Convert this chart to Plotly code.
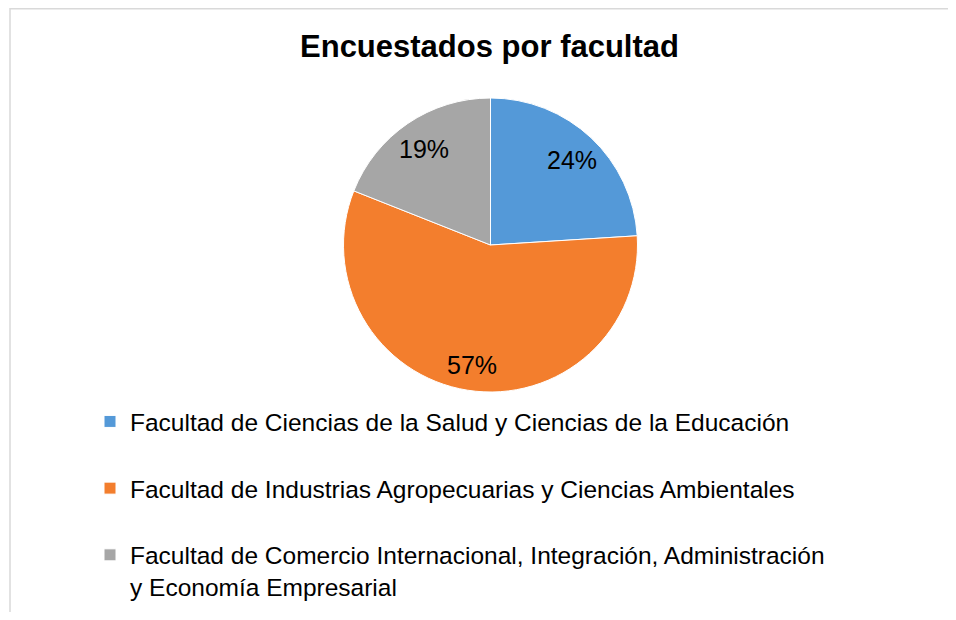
import math
import plotly.graph_objects as go

title = "Encuestados por facultad"
labels = [
    "Facultad de Ciencias de la Salud y Ciencias de la Educación",
    "Facultad de Industrias Agropecuarias y Ciencias Ambientales",
    "Facultad de Comercio Internacional, Integración, Administración<br>y Economía Empresarial",
]
values = [24, 57, 19]
colors = ["#5499d8", "#f37e2d", "#a6a6a6"]

# page body has an 8px margin; the figure is sized to fit the 956x620 window
W, H = 940, 604
FONT = "Liberation Sans, Arial, sans-serif"

# pie geometry (figure pixels)
cx, cy, R = 482.5, 237.0, 147.0

# single-line legend entries get a blank second line for Excel-like spacing
legend_labels = [l if "<br>" in l else l + "<br> " for l in labels]

fig = go.Figure(go.Pie(
    labels=legend_labels,
    values=values,
    sort=False,
    direction="clockwise",
    rotation=0,
    marker=dict(colors=colors, line=dict(color="#ffffff", width=1)),
    textinfo="none",
    domain=dict(x=[(cx - R) / W, (cx + R) / W], y=[1 - (cy + R) / H, 1 - (cy - R) / H]),
    hoverinfo="label+percent",
))

# percentage labels placed at ~0.8 radius along each slice's mid angle
total = sum(values)
cum = 0
annotations = []
for v in values:
    theta = 2 * math.pi * (cum + v / 2) / total
    cum += v
    r = 0.81 * R
    x = cx + r * math.sin(theta)
    y = cy - r * math.cos(theta) + 2
    annotations.append(dict(
        x=x / W, y=1 - y / H, xref="paper", yref="paper",
        text=f"{round(100 * v / total)}%", showarrow=False,
        xanchor="center", yanchor="middle",
        font=dict(family=FONT, size=25, color="#000000"),
    ))

fig.update_layout(
    width=W, height=H,
    margin=dict(l=0, r=0, t=0, b=0),
    paper_bgcolor="#ffffff",
    plot_bgcolor="#ffffff",
    title=dict(text="<b>" + title + "</b>", x=481.5 / W, xanchor="center",
               y=1 - 38.5 / H, yanchor="middle",
               font=dict(family=FONT, size=31, color="#000000")),
    legend=dict(
        x=82 / W, xanchor="left", y=1 - 391 / H, yanchor="top",
        orientation="v", valign="top",
        font=dict(family=FONT, size=24.5, color="#000000"),
        bgcolor="rgba(0,0,0,0)",
    ),
    annotations=annotations,
    shapes=[
        dict(type="line", xref="paper", yref="paper", x0=2 / W, x1=1, y0=1 - 0.75 / H, y1=1 - 0.75 / H,
             line=dict(color="#d9d9d9", width=1.5)),
        dict(type="line", xref="paper", yref="paper", x0=2 / W, x1=2 / W, y0=0, y1=1,
             line=dict(color="#d9d9d9", width=1.5)),
    ],
)

fig.write_html("out.html")
